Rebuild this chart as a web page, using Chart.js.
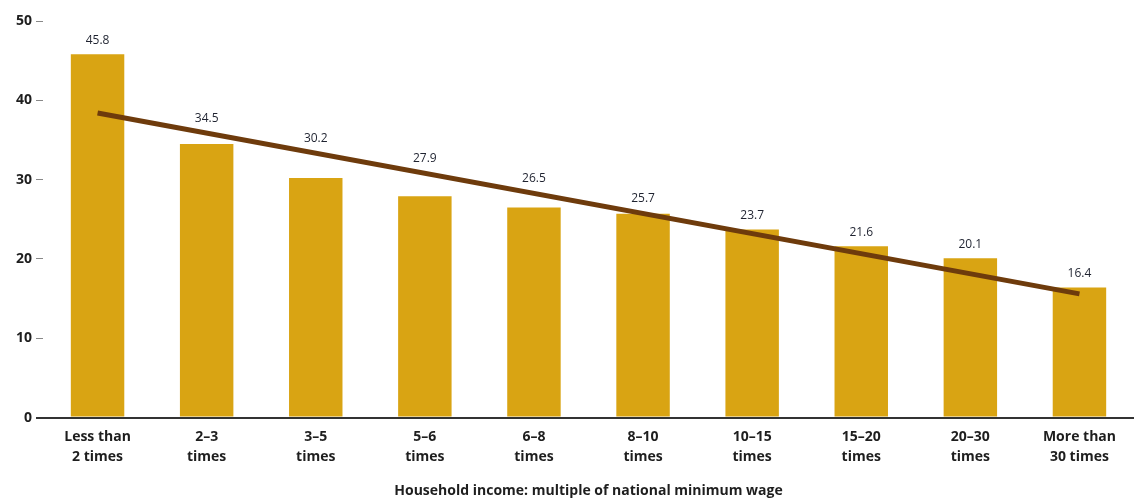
<!DOCTYPE html>
<html>
<head>
<meta charset="utf-8">
<script src="https://cdn.jsdelivr.net/npm/chart.js@4.4.1/dist/chart.umd.min.js"></script>
<style>
  html, body { margin: 0; padding: 0; background: #ffffff; }
  #wrap { width: 1134px; height: 503px; position: relative; }
</style>
</head>
<body>
<div id="wrap"><canvas id="chart"></canvas></div>
<script>
// Income bands (multiples of the national minimum wage)
const categories = [
  ['Less than', '2 times'], ['2\u20133', 'times'], ['3\u20135', 'times'],
  ['5\u20136', 'times'], ['6\u20138', 'times'], ['8\u201310', 'times'],
  ['10\u201315', 'times'], ['15\u201320', 'times'], ['20\u201330', 'times'],
  ['More than', '30 times']
];
// Bar values per band
const values = [45.8, 34.5, 30.2, 27.9, 26.5, 25.7, 23.7, 21.6, 20.1, 16.4];
// Trend line end points (first and last band)
const trendStart = 38.4;
const trendEnd = 15.6;
const trendValues = categories.map((_, i) =>
  i === 0 ? trendStart : (i === categories.length - 1 ? trendEnd : null));
// Y axis tick values
const yTicks = [0, 10, 20, 30, 40, 50];
const axisTitle = 'Household income: multiple of national minimum wage';

const FONT = '"Open Sans", Lato, sans-serif';

// Writes each bar's value above whichever is higher: the bar or the trend line
const valueLabels = {
  id: 'valueLabels',
  afterDatasetsDraw(chart) {
    const ctx = chart.ctx;
    const bars = chart.getDatasetMeta(1).data;
    const linePts = chart.getDatasetMeta(0).data;
    const p0 = linePts[0];
    const p1 = linePts[linePts.length - 1];
    ctx.save();
    ctx.font = '12px ' + FONT;
    ctx.fillStyle = '#1f2330';
    ctx.textAlign = 'center';
    ctx.textBaseline = 'middle';
    bars.forEach((bar, i) => {
      const t = (bar.x - p0.x) / (p1.x - p0.x);
      const lineY = p0.y + t * (p1.y - p0.y);
      const top = Math.min(bar.y, lineY - 1);
      ctx.fillText(values[i].toFixed(1), bar.x, top - 14);
    });
    ctx.restore();
  }
};

new Chart(document.getElementById('chart'), {
  data: {
    labels: categories,
    datasets: [
      {
        type: 'line',
        data: trendValues,
        spanGaps: true,
        borderColor: '#6e3b0c',
        borderWidth: 5,
        pointRadius: 0,
        borderCapStyle: 'butt',
        order: 0
      },
      {
        type: 'bar',
        data: values,
        backgroundColor: '#d9a413',
        barPercentage: 0.49,
        categoryPercentage: 1.0,
        order: 1
      }
    ]
  },
  options: {
    responsive: true,
    maintainAspectRatio: false,
    animation: false,
    layout: { padding: { top: 21, right: 0, left: 12, bottom: 4 } },
    plugins: {
      legend: { display: false },
      tooltip: { enabled: false }
    },
    scales: {
      x: {
        grid: { display: false },
        border: { display: true, color: '#333333', width: 2 },
        ticks: {
          color: '#1e1e1e',
          font: { family: FONT, size: 14, weight: 'bold', lineHeight: 1.45 },
          padding: 1,
          maxRotation: 0,
          autoSkip: false
        },
        title: {
          display: true,
          text: axisTitle,
          color: '#1e1e1e',
          font: { family: FONT, size: 14, weight: 'bold' },
          padding: { top: 14, bottom: 0 }
        }
      },
      y: {
        min: 0,
        max: 50,
        afterBuildTicks(axis) { axis.ticks = yTicks.map(v => ({ value: v })); },
        border: { display: false },
        grid: {
          drawOnChartArea: false,
          drawTicks: true,
          tickLength: 7,
          lineWidth: ctx => (ctx.tick && ctx.tick.value === 0 ? 2 : 1),
          color: ctx => (ctx.tick && ctx.tick.value === 0 ? '#333333' : '#888888')
        },
        ticks: {
          color: '#1e1e1e',
          font: { family: FONT, size: 14, weight: 'bold' },
          padding: 4
        }
      }
    }
  },
  plugins: [valueLabels]
});
</script>
</body>
</html>
